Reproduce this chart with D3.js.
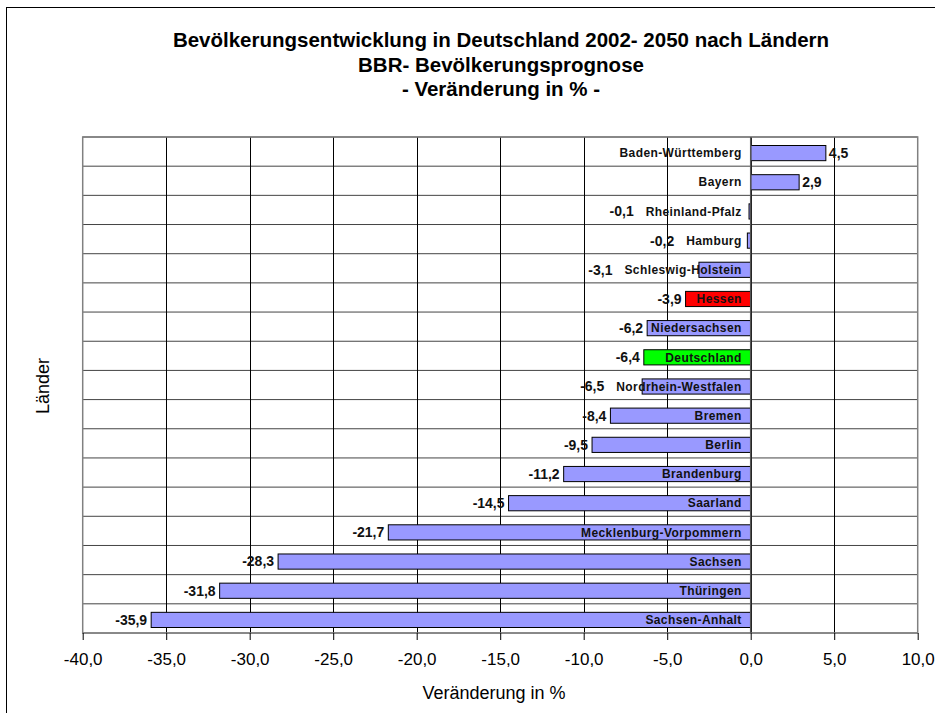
<!DOCTYPE html>
<html>
<head>
<meta charset="utf-8">
<script src="https://cdn.jsdelivr.net/npm/d3@7"></script>
<style>
  body { margin: 0; background: #fff; }
  svg { font-family: "Liberation Sans", Arial, sans-serif; }
</style>
</head>
<body>
<svg id="chart" width="935" height="713"></svg>
<script>
const categories = ["Baden-Württemberg", "Bayern", "Rheinland-Pfalz", "Hamburg", "Schleswig-Holstein",
  "Hessen", "Niedersachsen", "Deutschland", "Nordrhein-Westfalen", "Bremen", "Berlin", "Brandenburg",
  "Saarland", "Mecklenburg-Vorpommern", "Sachsen", "Thüringen", "Sachsen-Anhalt"];
const values = [4.5, 2.9, -0.1, -0.2, -3.1, -3.9, -6.2, -6.4, -6.5, -8.4, -9.5, -11.2, -14.5, -21.7, -28.3, -31.8, -35.9];
const xTicks = [-40, -35, -30, -25, -20, -15, -10, -5, 0, 5, 10];
const titleLines = ["Bevölkerungsentwicklung in Deutschland 2002- 2050 nach Ländern",
  "BBR- Bevölkerungsprognose", "- Veränderung in % -"];

const de = d3.formatLocale({decimal: ",", thousands: ".", grouping: [3], currency: ["", " €"], minus: "-"});
const fmt = de.format(".1f");

const svg = d3.select("#chart");
const plotLeft = 82.7, plotRight = 917.7, plotTop = 137, plotBottom = 633;

// outer frame
svg.append("rect")
  .attr("x", 6.5).attr("y", 7.5)
  .attr("width", 1000).attr("height", 800)
  .attr("fill", "none").attr("stroke", "#000");

svg.selectAll("text.title")
  .data(titleLines)
  .enter().append("text")
  .attr("class", "title")
  .attr("x", 501)
  .attr("y", (d, i) => 47 + i * 24.5)
  .attr("text-anchor", "middle")
  .attr("font-weight", "bold")
  .attr("font-size", 20.5)
  .text(d => d);

const xScale = d3.scaleLinear()
  .domain([xTicks[0], xTicks[xTicks.length - 1]])
  .range([plotLeft, plotRight]);
const yScale = d3.scaleBand()
  .domain(categories)
  .range([plotTop, plotBottom])
  .paddingInner(0.48)
  .paddingOuter(0.24);
const step = yScale.step();
const x0 = xScale(0);

// horizontal gridlines at category boundaries
svg.append("g")
  .selectAll("line")
  .data(d3.range(categories.length + 1))
  .enter().append("line")
  .attr("x1", plotLeft).attr("x2", plotRight)
  .attr("y1", i => plotTop + i * step).attr("y2", i => plotTop + i * step)
  .attr("stroke", "#444");

// vertical gridlines
svg.append("g")
  .selectAll("line")
  .data(xTicks.slice(1, -1))
  .enter().append("line")
  .attr("x1", d => Math.round(xScale(d)) + 0.5).attr("x2", d => Math.round(xScale(d)) + 0.5)
  .attr("y1", plotTop).attr("y2", plotBottom)
  .attr("stroke", "#000");

// plot border
svg.append("rect")
  .attr("x", plotLeft).attr("y", plotTop)
  .attr("width", plotRight - plotLeft).attr("height", plotBottom - plotTop)
  .attr("fill", "none").attr("stroke", "#808080").attr("stroke-width", 1.5);

const colorFor = c => c === "Hessen" ? "#ff0000" : c === "Deutschland" ? "#00ff00" : "#9999ff";

svg.append("g")
  .selectAll("rect")
  .data(categories)
  .enter().append("rect")
  .attr("x", (d, i) => Math.min(xScale(values[i]), x0))
  .attr("y", d => yScale(d) + 1.5)
  .attr("width", (d, i) => Math.abs(xScale(values[i]) - x0))
  .attr("height", yScale.bandwidth())
  .attr("fill", d => colorFor(d))
  .attr("stroke", "#000")
  .attr("stroke-width", 1);

// category axis line at 0
svg.append("line")
  .attr("x1", x0).attr("x2", x0)
  .attr("y1", plotTop).attr("y2", plotBottom)
  .attr("stroke", "#555").attr("stroke-width", 1.5);

// category labels
const catLabels = svg.append("g")
  .selectAll("text")
  .data(categories)
  .enter().append("text")
  .attr("x", x0 - 9)
  .attr("y", d => yScale(d) + 1.5 + yScale.bandwidth() / 2)
  .attr("dy", "0.35em")
  .attr("text-anchor", "end")
  .attr("font-weight", "bold")
  .attr("font-size", 12)
  .attr("letter-spacing", 0.4)
  .attr("fill", "#111")
  .text(d => d);

const catLeft = [];
catLabels.each(function (d, i) { catLeft[i] = x0 - 9 - this.getComputedTextLength(); });

// value labels
svg.append("g")
  .selectAll("text")
  .data(categories)
  .enter().append("text")
  .attr("x", (d, i) => {
    const end = xScale(values[i]);
    if (values[i] >= 0) return end + 3;
    return catLeft[i] < end ? catLeft[i] - 12 : end - 4;
  })
  .attr("y", d => yScale(d) + 1.5 + yScale.bandwidth() / 2)
  .attr("dy", "0.35em")
  .attr("text-anchor", (d, i) => values[i] >= 0 ? "start" : "end")
  .attr("font-weight", "bold")
  .attr("font-size", 14)
  .attr("fill", "#111")
  .text((d, i) => fmt(values[i]));

// x axis
const xAxis = d3.axisBottom(xScale)
  .tickValues(xTicks)
  .tickSize(7)
  .tickPadding(13)
  .tickFormat(fmt);
const gx = svg.append("g")
  .attr("transform", `translate(0,${plotBottom})`)
  .call(xAxis);
gx.select(".domain").remove();
gx.selectAll("line").attr("stroke", "#000");
gx.selectAll("text")
  .attr("font-size", 17)
  .attr("font-family", "Liberation Sans, Arial, sans-serif")
  .attr("fill", "#000");

svg.append("text")
  .attr("x", 494)
  .attr("y", 699)
  .attr("text-anchor", "middle")
  .attr("font-size", 18)
  .text("Veränderung in %");

svg.append("text")
  .attr("transform", "translate(49,386) rotate(-90)")
  .attr("text-anchor", "middle")
  .attr("font-size", 18)
  .text("Länder");
</script>
</body>
</html>
